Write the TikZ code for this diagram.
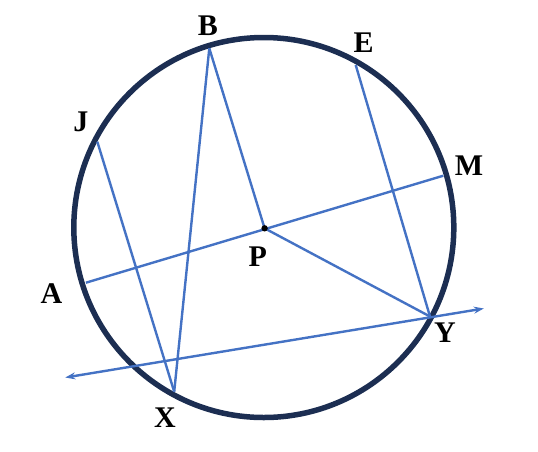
\documentclass[tikz,border=0pt]{standalone}
\usepackage{fontspec}
\setmainfont{Liberation Serif}
\usetikzlibrary{arrows.meta}
\definecolor{ringcol}{HTML}{1C2E52}
\definecolor{chord}{HTML}{4472C4}
\begin{document}
\begin{tikzpicture}[x=1pt,y=-1pt,
  ring/.style={draw=ringcol,line width=5.5pt},
  chordline/.style={draw=chord,line width=2.4pt},
  lbl/.style={font=\bfseries\fontsize{30}{30}\selectfont,inner sep=0pt,text=black}]
\useasboundingbox (0,0) rectangle (538,451);
% circle
\node[circle, ring, minimum size=380pt, inner sep=0pt] (C) at (263.8,227.5) {};
% points
\coordinate (B) at (209.3,48.3);
\coordinate (E) at (355.7,65);
\coordinate (J) at (97.3,141.7);
\coordinate (M) at (443.3,175.7);
\coordinate (A) at (85.9,282.7);
\coordinate (X) at (174.2,391.7);
\coordinate (Y) at (430,316.5);
\coordinate (P) at (264.6,228.3);
\coordinate (L) at (65.3,377.5);
\coordinate (R) at (483.8,308.5);
% chords
\draw[chordline] (B) -- (X);
\draw[chordline] (B) -- (P);
\draw[chordline] (P) -- (Y);
\draw[chordline] (E) -- (Y);
\draw[chordline] (J) -- (X);
\draw[chordline] (A) -- (M);
\draw[chordline, {Stealth[length=10pt,width=7pt]}-{Stealth[length=10pt,width=7pt]}] (L) -- (R);
\fill[black] (P) circle (3.2pt);
% labels
\node[lbl] (lB) at (207.9,26) {B};
\node[lbl] (lE) at (363.6,43) {E};
\node[lbl] (lJ) at (80.8,122) {J};
\node[lbl] (lM) at (469,166) {M};
\node[lbl] (lA) at (51.5,293.5) {A};
\node[lbl] (lP) at (257.7,256.7) {P};
\node[lbl] (lY) at (445,333) {Y};
\node[lbl] (lX) at (165,417.7) {X};
\end{tikzpicture}
\end{document}
